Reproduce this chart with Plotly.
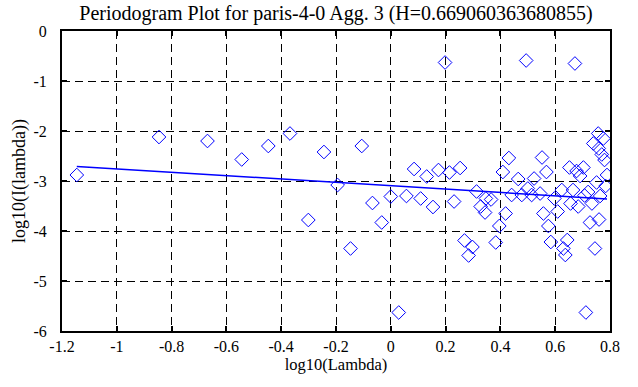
import plotly.graph_objects as go

title_text = "Periodogram Plot for paris-4-0 Agg. 3 (H=0.669060363680855)"

log_lambda = [
    -1.146, -0.846, -0.669, -0.544, -0.447, -0.368, -0.301, -0.244, -0.194, -0.147,
    -0.106, -0.067, -0.033, 0.000, 0.029, 0.057, 0.085, 0.109, 0.131, 0.154,
    0.174, 0.198, 0.214, 0.231, 0.253, 0.269, 0.284, 0.298, 0.313, 0.328,
    0.344, 0.347, 0.366, 0.383, 0.396, 0.409, 0.419, 0.431, 0.441, 0.465,
    0.478, 0.494, 0.500, 0.514, 0.523, 0.545, 0.552, 0.557, 0.568, 0.575,
    0.584, 0.597, 0.609, 0.624, 0.630, 0.637, 0.644, 0.652, 0.656, 0.665,
    0.672, 0.678, 0.684, 0.691, 0.703, 0.707, 0.712, 0.720, 0.727, 0.734,
    0.739, 0.745, 0.751, 0.757, 0.759, 0.760, 0.764, 0.770, 0.776, 0.780,
    0.784, 0.789,
]
log_I = [
    -2.88, -2.12, -2.20, -2.57, -2.30, -2.05, -3.78, -2.42, -3.08, -4.35,
    -2.30, -3.44, -3.83, -3.31, -5.63, -3.30, -2.76, -3.35, -2.91, -3.52,
    -2.78, -0.63, -2.83, -3.41, -2.74, -4.19, -4.49, -4.32, -3.21, -3.51,
    -3.63, -3.35, -3.37, -4.23, -3.90, -2.82, -3.65, -2.54, -3.28, -2.96,
    -3.28, -0.59, -3.15, -3.28, -2.95, -3.25, -2.53, -3.65, -2.82, -3.90,
    -4.22, -3.35, -3.61, -3.18, -4.35, -4.48, -4.18, -2.73, -3.45, -3.18,
    -0.65, -2.80, -3.51, -2.90, -2.73, -3.29, -5.63, -3.22, -3.83, -3.45,
    -2.25, -4.35, -3.03, -2.05, -2.35, -3.77, -3.30, -2.47, -2.15, -2.58,
    -3.10, -2.88,
]

fit_x = [-1.146, 0.789]
fit_y = [-2.71, -3.36]

x_tickvals = [-1.2, -1.0, -0.8, -0.6, -0.4, -0.2, 0.0, 0.2, 0.4, 0.6, 0.8]
x_ticktext = ["-1.2", "-1", "-0.8", "-0.6", "-0.4", "-0.2", "0", "0.2", "0.4", "0.6", "0.8"]
y_tickvals = [0, -1, -2, -3, -4, -5, -6]
y_ticktext = ["0", "-1", "-2", "-3", "-4", "-5", "-6"]

serif = "Liberation Serif, Times New Roman, serif"

fig = go.Figure()
fig.add_trace(go.Scatter(
    x=log_lambda, y=log_I, mode="markers",
    marker=dict(symbol="diamond-open", size=10.5, color="#0000ff", line=dict(width=1, color="#0000ff")),
    showlegend=False, hoverinfo="x+y",
))
fig.add_trace(go.Scatter(
    x=fit_x, y=fit_y, mode="lines",
    line=dict(color="#0000ff", width=1.5),
    showlegend=False,
))

axis_common = dict(
    showline=True, linecolor="black", linewidth=2, mirror="ticks",
    ticks="inside", ticklen=5, tickwidth=2, tickcolor="black",
    showgrid=True, gridcolor="black", gridwidth=1, griddash="8px,5px",
    zeroline=False, automargin=False,
    tickfont=dict(family=serif, size=16, color="black"),
)

fig.update_layout(
    width=638, height=387,
    margin=dict(l=62, r=28, t=31, b=56),
    paper_bgcolor="white", plot_bgcolor="white",
    title=dict(text=title_text, x=0.5, xref="paper", xanchor="center",
               y=1 - 13 / 387, yref="container", yanchor="middle",
               font=dict(family=serif, size=20, color="black")),
    xaxis=dict(range=[-1.2, 0.8], tickvals=x_tickvals, ticktext=x_ticktext,
               title=dict(text="log10(Lambda)", font=dict(family=serif, size=16.5, color="black"), standoff=0),
               **axis_common),
    yaxis=dict(range=[-6, 0], tickvals=y_tickvals, ticktext=y_ticktext,
               ticklabelstandoff=10,
               title=dict(text="log10(I(lambda))", font=dict(family=serif, size=18, color="black"), standoff=3),
               **axis_common),
)

# remove the browser's default 8px body margin so the figure fills the window
fig.write_html("out.html", config={"displayModeBar": False},
               post_script="document.body.style.margin='0px';")
